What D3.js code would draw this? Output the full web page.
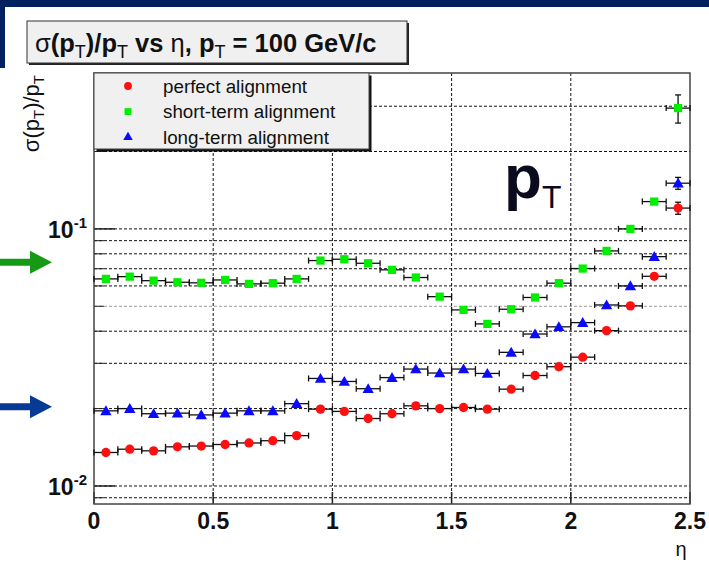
<!DOCTYPE html>
<html>
<head>
<meta charset="utf-8">
<script src="https://cdn.jsdelivr.net/npm/d3@7"></script>
<style>
  html, body { margin: 0; padding: 0; background: #fff; }
  svg { display: block; font-family: Arial, "Liberation Sans", Helvetica, sans-serif; }
</style>
</head>
<body>
<svg id="chart" width="709" height="566"></svg>
<script>
// pT resolution at pT = 100 GeV/c, per eta bin (bin width 0.1)
const etaCenters = [0.05, 0.15, 0.25, 0.35, 0.45, 0.55, 0.65, 0.75, 0.85, 0.95,
                    1.05, 1.15, 1.25, 1.35, 1.45, 1.55, 1.65, 1.75, 1.85, 1.95,
                    2.05, 2.15, 2.25, 2.35, 2.45];
const etaHalfWidth = 0.05;

const perfect = [0.0135, 0.0139, 0.0137, 0.0142, 0.0143, 0.0145, 0.0147, 0.0150, 0.0157, 0.0199,
                 0.0195, 0.0183, 0.0191, 0.0205, 0.0200, 0.0202, 0.0199, 0.0238, 0.0269, 0.0291,
                 0.0317, 0.0402, 0.0502, 0.0654, 0.1205];
const perfectErr = [0.0001, 0.0001, 0.0001, 0.0001, 0.0001, 0.0001, 0.0001, 0.0001, 0.0001, 0.0002,
                    0.0002, 0.0002, 0.0002, 0.0002, 0.0002, 0.0002, 0.0002, 0.0003, 0.0003, 0.0003,
                    0.0004, 0.0005, 0.0007, 0.0012, 0.0065];

const shortTerm = [0.0639, 0.0652, 0.0629, 0.0620, 0.0617, 0.0633, 0.0611, 0.0615, 0.0639, 0.0753,
                   0.0762, 0.0735, 0.0693, 0.0647, 0.0545, 0.0484, 0.0427, 0.0487, 0.0541, 0.0615,
                   0.0701, 0.0821, 0.1000, 0.1277, 0.2950];
const shortTermErr = [0.0006, 0.0006, 0.0006, 0.0006, 0.0006, 0.0006, 0.0006, 0.0006, 0.0006, 0.0007,
                      0.0007, 0.0007, 0.0007, 0.0006, 0.0005, 0.0005, 0.0004, 0.0005, 0.0005, 0.0006,
                      0.0008, 0.0010, 0.0014, 0.0025, 0.0370];

const longTerm = [0.0196, 0.0200, 0.0191, 0.0192, 0.0189, 0.0192, 0.0196, 0.0196, 0.0209, 0.0262,
                  0.0255, 0.0239, 0.0264, 0.0285, 0.0275, 0.0285, 0.0274, 0.0331, 0.0390, 0.0416,
                  0.0432, 0.0506, 0.0600, 0.0780, 0.1506];
const longTermErr = [0.0002, 0.0002, 0.0002, 0.0002, 0.0002, 0.0002, 0.0002, 0.0002, 0.0002, 0.0003,
                     0.0003, 0.0003, 0.0003, 0.0003, 0.0003, 0.0003, 0.0003, 0.0004, 0.0004, 0.0005,
                     0.0005, 0.0006, 0.0008, 0.0014, 0.0080];

const xTickValues = [0, 0.5, 1, 1.5, 2, 2.5];
const xTickLabels = ["0", "0.5", "1", "1.5", "2", "2.5"];
const yMajorTicks = [0.01, 0.1];
const yMajorExponents = ["-2", "-1"];
const yGridValues = [0.009, 0.01, 0.02, 0.03, 0.04, 0.05, 0.06, 0.07, 0.08, 0.09, 0.1, 0.2, 0.3];
const xGridValues = [0.5, 1, 1.5, 2];

const legendLabels = ["perfect alignment", "short-term alignment", "long-term  alignment"];

const svg = d3.select("#chart");
const W = 709, H = 566;
const plot = { left: 94, right: 690, top: 73, bottom: 504 };

const x = d3.scaleLinear().domain([0, 2.5]).range([plot.left, plot.right]);
const y = d3.scaleLog().domain([0.00851, 0.404]).range([plot.bottom, plot.top]);

// slide decoration: navy band on top and along the left edge
svg.append("rect").attr("x", 0).attr("y", 0).attr("width", W).attr("height", 7).attr("fill", "#002060");
svg.append("rect").attr("x", 0).attr("y", 0).attr("width", 5).attr("height", 68).attr("fill", "#002060");

// title box with drop shadow
const tb = { x: 27, y: 21, w: 380, h: 42 };
svg.append("rect").attr("x", tb.x + 2).attr("y", tb.y + 2).attr("width", tb.w).attr("height", tb.h).attr("fill", "#222");
svg.append("rect").attr("x", tb.x).attr("y", tb.y).attr("width", tb.w).attr("height", tb.h)
  .attr("fill", "#f0f0f0").attr("stroke", "#333").attr("stroke-width", 1);
const title = svg.append("text").attr("x", 35).attr("y", 52).attr("font-size", 25.5).attr("font-weight", "bold").attr("fill", "#111");
title.append("tspan").attr("font-weight", "normal").text("σ");
title.append("tspan").text("(p");
title.append("tspan").attr("font-size", 18).attr("dy", 6).attr("font-weight", "normal").text("T");
title.append("tspan").attr("dy", -6).text(")/p");
title.append("tspan").attr("font-size", 18).attr("dy", 6).attr("font-weight", "normal").text("T");
title.append("tspan").attr("dy", -6).text(" vs ");
title.append("tspan").attr("font-weight", "normal").text("η");
title.append("tspan").text(", p");
title.append("tspan").attr("font-size", 18).attr("dy", 6).attr("font-weight", "normal").text("T");
title.append("tspan").attr("dy", -6).text(" = 100 GeV/c");

// grid
const grid = svg.append("g");
grid.selectAll("line.hg").data(yGridValues).join("line")
  .attr("x1", plot.left).attr("x2", plot.right)
  .attr("y1", d => y(d)).attr("y2", d => y(d))
  .attr("stroke", d => d === 0.05 ? "#9a9a9a" : "#111")
  .attr("stroke-width", 1).attr("stroke-dasharray", "3,2");
grid.selectAll("line.vg").data(xGridValues).join("line")
  .attr("x1", d => x(d)).attr("x2", d => x(d))
  .attr("y1", plot.top).attr("y2", plot.bottom)
  .attr("stroke", "#111").attr("stroke-width", 1).attr("stroke-dasharray", "3,2");

// axes ticks
const ax = svg.append("g");
ax.selectAll("line.ym").data(yMajorTicks).join("line")
  .attr("x1", plot.left).attr("x2", plot.left + 21)
  .attr("y1", d => y(d)).attr("y2", d => y(d))
  .attr("stroke", "#222").attr("stroke-width", 1.5);
ax.selectAll("line.yn").data(yGridValues.filter(v => !yMajorTicks.includes(v))).join("line")
  .attr("x1", plot.left).attr("x2", plot.left + 10)
  .attr("y1", d => y(d)).attr("y2", d => y(d))
  .attr("stroke", "#222").attr("stroke-width", 1);
ax.selectAll("line.xm").data(xTickValues).join("line")
  .attr("x1", d => x(d)).attr("x2", d => x(d))
  .attr("y1", plot.bottom).attr("y2", plot.bottom - 12)
  .attr("stroke", "#222").attr("stroke-width", 1.5);

// frame
svg.append("rect").attr("x", plot.left).attr("y", plot.top)
  .attr("width", plot.right - plot.left).attr("height", plot.bottom - plot.top)
  .attr("fill", "none").attr("stroke", "#444").attr("stroke-width", 1.5);

// tick labels
svg.selectAll("text.xt").data(xTickValues).join("text")
  .attr("x", d => x(d)).attr("y", 529).attr("text-anchor", "middle")
  .attr("font-size", 23).attr("font-weight", "bold").attr("fill", "#111")
  .text((d, i) => xTickLabels[i]);
yMajorTicks.forEach((v, i) => {
  const t = svg.append("text").attr("x", 87).attr("y", y(v) + 9.5).attr("text-anchor", "end")
    .attr("font-size", 23).attr("font-weight", "bold").attr("fill", "#111");
  t.append("tspan").text("10");
  t.append("tspan").attr("font-size", 15).attr("dy", -10).text(yMajorExponents[i]);
});

// axis titles
svg.append("text").attr("x", 681).attr("y", 556).attr("text-anchor", "middle")
  .attr("font-size", 20).attr("fill", "#111").text("η");
const yt = svg.append("text").attr("transform", "translate(39,75) rotate(-90)")
  .attr("text-anchor", "end").attr("font-size", 22).attr("fill", "#111");
yt.append("tspan").text("σ(p");
yt.append("tspan").attr("font-size", 15).attr("dy", 5).text("T");
yt.append("tspan").attr("dy", -5).text(")/p");
yt.append("tspan").attr("font-size", 15).attr("dy", 5).text("T");

// big pT label
const big = svg.append("text").attr("x", 504).attr("y", 198).attr("fill", "#0b0b1e");
big.append("tspan").attr("font-size", 62).attr("font-weight", "bold").text("p");
big.append("tspan").attr("font-size", 32).attr("dy", 10).text("T");

// series
const series = [
  { name: legendLabels[0], values: perfect, err: perfectErr, color: "#ff1010", shape: "circle" },
  { name: legendLabels[1], values: shortTerm, err: shortTermErr, color: "#00ee00", shape: "square" },
  { name: legendLabels[2], values: longTerm, err: longTermErr, color: "#0a0aff", shape: "triangle" }
];
const symbolFor = (shape, scale) => {
  if (shape === "circle") return d3.symbol(d3.symbolCircle, 68 * scale)();
  if (shape === "square") return d3.symbol(d3.symbolSquare, 68 * scale)();
  return d3.symbol(d3.symbolTriangle, 56 * scale)();
};

const dataG = svg.append("g");
series.forEach(s => {
  const pts = etaCenters.map((e, i) => ({ eta: e, v: s.values[i], err: s.err[i] }));
  const g = dataG.append("g");
  // horizontal bars with end caps
  g.selectAll("line.h").data(pts).join("line")
    .attr("x1", d => x(d.eta - etaHalfWidth)).attr("x2", d => x(d.eta + etaHalfWidth))
    .attr("y1", d => y(d.v)).attr("y2", d => y(d.v))
    .attr("stroke", "#111").attr("stroke-width", 1.3);
  [-1, 1].forEach(side => {
    g.selectAll("line.c" + side).data(pts).join("line")
      .attr("x1", d => x(d.eta + side * etaHalfWidth)).attr("x2", d => x(d.eta + side * etaHalfWidth))
      .attr("y1", d => y(d.v) - 3).attr("y2", d => y(d.v) + 3)
      .attr("stroke", "#111").attr("stroke-width", 1.3);
  });
  // vertical bars with caps
  g.selectAll("line.v").data(pts).join("line")
    .attr("x1", d => x(d.eta)).attr("x2", d => x(d.eta))
    .attr("y1", d => y(d.v + d.err)).attr("y2", d => y(d.v - d.err))
    .attr("stroke", "#111").attr("stroke-width", 1.3);
  ["+", "-"].forEach(sign => {
    g.selectAll("line.vc" + (sign === "+" ? "p" : "m")).data(pts.filter(d => y(d.v - d.err) - y(d.v + d.err) > 8)).join("line")
      .attr("x1", d => x(d.eta) - 3).attr("x2", d => x(d.eta) + 3)
      .attr("y1", d => y(sign === "+" ? d.v + d.err : d.v - d.err))
      .attr("y2", d => y(sign === "+" ? d.v + d.err : d.v - d.err))
      .attr("stroke", "#111").attr("stroke-width", 1.3);
  });
  g.selectAll("path.m").data(pts).join("path")
    .attr("transform", d => `translate(${x(d.eta)},${y(d.v) + (s.shape === "triangle" ? 1 : 0)})`)
    .attr("d", symbolFor(s.shape, 1))
    .attr("fill", s.color);
});

// legend
const lg = { x: 94, y: 73, w: 275, h: 76 };
svg.append("rect").attr("x", lg.x + 2.5).attr("y", lg.y + 2.5).attr("width", lg.w).attr("height", lg.h).attr("fill", "#111");
svg.append("rect").attr("x", lg.x).attr("y", lg.y).attr("width", lg.w).attr("height", lg.h)
  .attr("fill", "#f0f0f0").attr("stroke", "#444").attr("stroke-width", 1);
series.forEach((s, i) => {
  const cy = 86 + i * 25.6;
  svg.append("path").attr("transform", `translate(128,${cy})`)
    .attr("d", symbolFor(s.shape, 0.7)).attr("fill", s.color);
  svg.append("text").attr("x", 163).attr("y", cy + 6.5).attr("font-size", 18.8).attr("fill", "#111").text(s.name);
});

// arrows marking the two alignment levels
function arrow(cy, color) {
  svg.append("path")
    .attr("d", `M0,${cy - 3.5} L30,${cy - 3.5} L30,${cy - 11.5} L52,${cy} L30,${cy + 11.5} L30,${cy + 3.5} L0,${cy + 3.5} Z`)
    .attr("fill", color);
}
arrow(262.3, "#169a16");
arrow(406.7, "#073a94");
</script>
</body>
</html>
